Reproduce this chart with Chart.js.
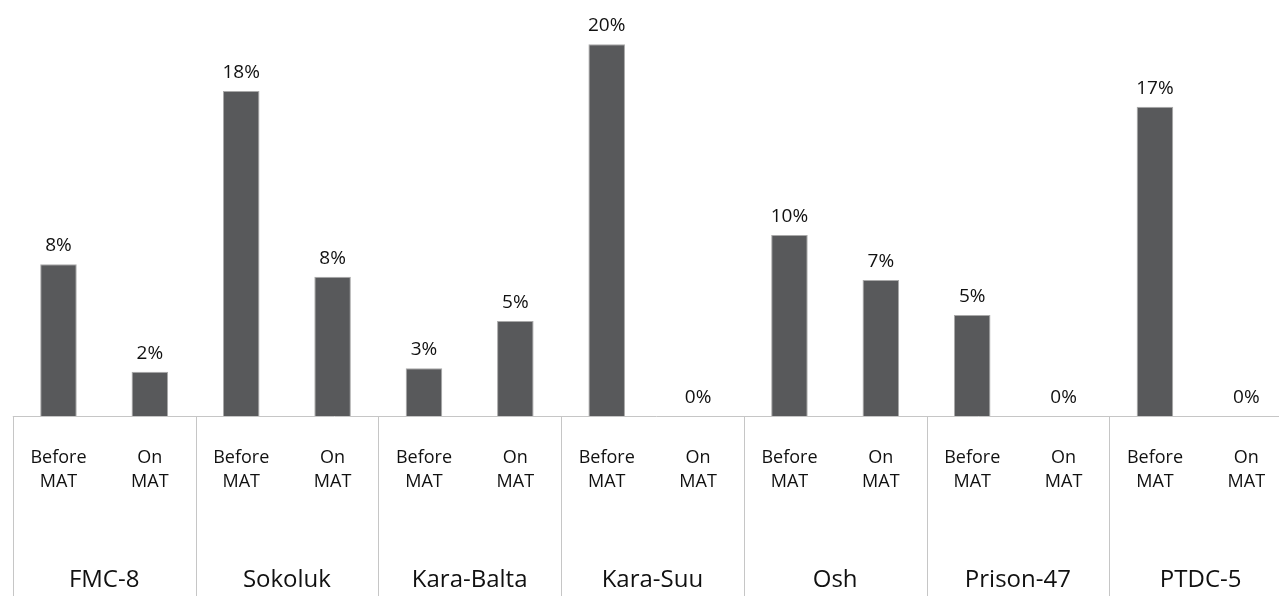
<!DOCTYPE html>
<html>
<head>
<meta charset="utf-8">
<script src="https://cdn.jsdelivr.net/npm/chart.js@4/dist/chart.umd.min.js"></script>
<style>
  html, body { margin: 0; padding: 0; background: #ffffff; overflow: hidden; }
  #wrap { width: 1300px; height: 596px; }
</style>
</head>
<body>
<div id="wrap"><canvas id="c" width="1300" height="596"></canvas></div>
<script>
// Data (percent)
const groups = ["FMC-8", "Sokoluk", "Kara-Balta", "Kara-Suu", "Osh", "Prison-47", "PTDC-5"];
const phases = ["Before MAT", "On MAT"];
const beforeMAT = [8.18, 17.52, 2.57, 20.04, 9.76, 5.44, 16.67];
const onMAT = [2.39, 7.51, 5.12, 0, 7.33, 0, 0];

const FONT = "'Open Sans', 'DejaVu Sans', sans-serif";
const subLabels = groups.flatMap(() => phases.map(p => p.split(' ')));
const values = groups.flatMap((g, i) => [beforeMAT[i], onMAT[i]]);

const decorPlugin = {
  id: 'decor',
  afterDraw(chart) {
    const ctx = chart.ctx;
    const xs = chart.scales.x;
    const area = chart.chartArea;
    const step = xs.getPixelForValue(1) - xs.getPixelForValue(0);
    ctx.save();
    ctx.strokeStyle = '#c6c6c6';
    ctx.lineWidth = 1;
    // baseline
    ctx.beginPath();
    ctx.moveTo(area.left, Math.round(area.bottom) + 0.5);
    ctx.lineTo(chart.width, Math.round(area.bottom) + 0.5);
    ctx.stroke();
    // group separators
    for (let k = 0; k <= groups.length; k++) {
      const px = Math.round(xs.getPixelForValue(2 * k) - step / 2) + 0.5;
      ctx.beginPath();
      ctx.moveTo(px, Math.round(area.bottom));
      ctx.lineTo(px, chart.height);
      ctx.stroke();
    }
    // value labels
    const meta = chart.getDatasetMeta(0);
    ctx.fillStyle = '#111111';
    ctx.font = '19px ' + FONT;
    ctx.textAlign = 'center';
    ctx.textBaseline = 'alphabetic';
    meta.data.forEach((bar, i) => {
      ctx.fillText(Math.round(values[i]) + '%', bar.x, bar.y - 13);
    });
    ctx.restore();
  }
};

new Chart(document.getElementById('c'), {
  type: 'bar',
  data: {
    labels: subLabels,
    datasets: [{
      data: values,
      backgroundColor: '#58595b',
      borderColor: '#a9a9a9',
      borderWidth: 1,
      barPercentage: 0.4,
      categoryPercentage: 1.0
    }]
  },
  options: {
    responsive: false,
    animation: false,
    layout: { padding: { left: 12, right: 8, top: 8, bottom: 0 } },
    plugins: { legend: { display: false }, tooltip: { enabled: false } },
    scales: {
      y: {
        display: false,
        min: 0,
        max: 22
      },
      x: {
        position: 'bottom',
        grid: { display: false, drawTicks: false },
        border: { display: false },
        ticks: {
          color: '#111111',
          font: { family: FONT, size: 18, lineHeight: 1.33 },
          padding: 30,
          maxRotation: 0,
          autoSkip: false
        },
        afterFit(scale) { scale.height = 95; }
      },
      x2: {
        type: 'category',
        position: 'bottom',
        labels: groups,
        offset: true,
        grid: { display: false, drawTicks: false },
        border: { display: false },
        ticks: {
          color: '#111111',
          font: { family: FONT, size: 24, lineHeight: 1.2 },
          padding: 55,
          maxRotation: 0,
          autoSkip: false
        },
        afterFit(scale) { scale.height = 85; }
      }
    }
  },
  plugins: [decorPlugin]
});
</script>
</body>
</html>
